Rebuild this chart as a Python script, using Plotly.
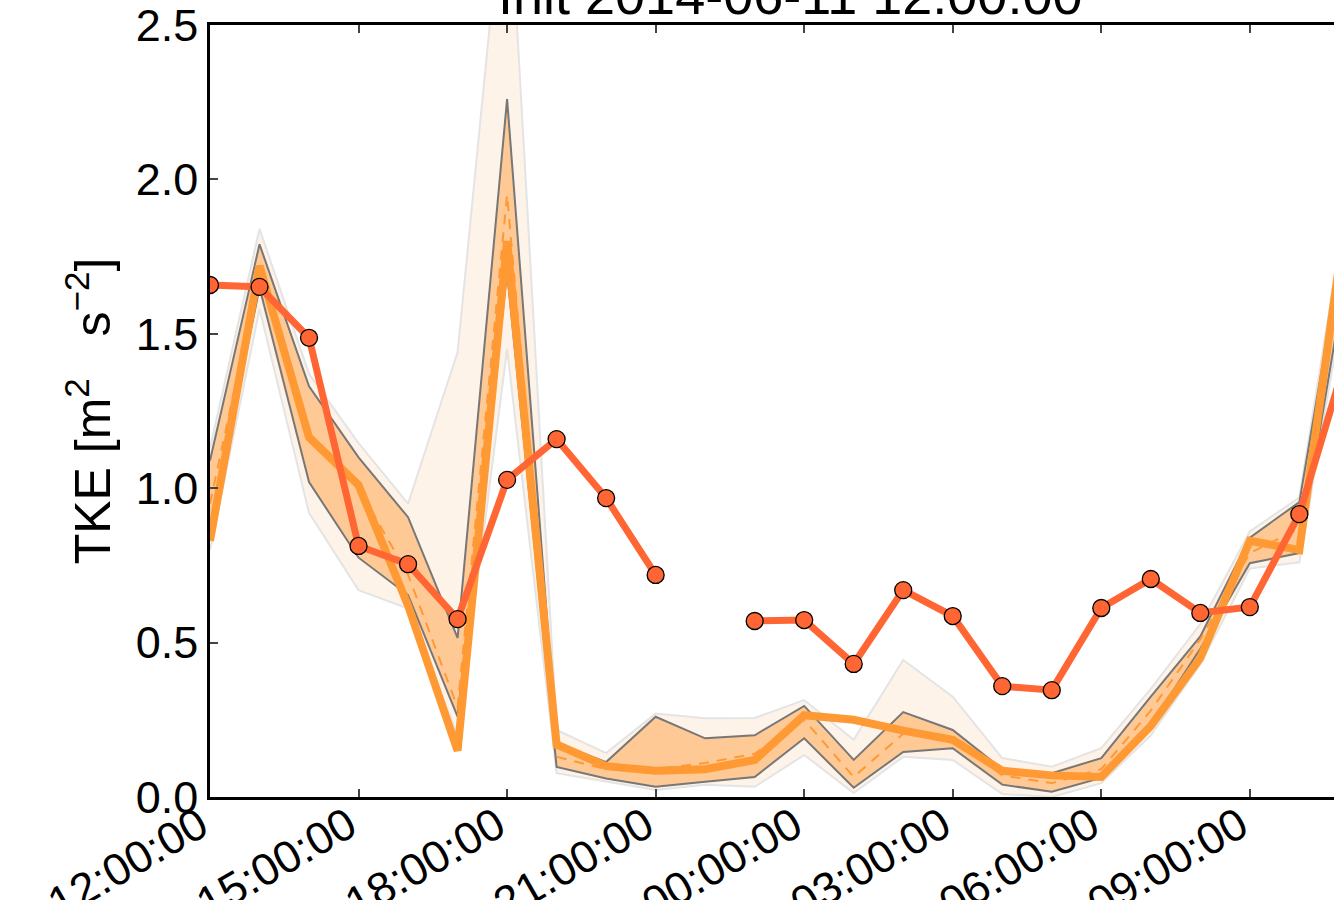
import pandas as pd
import plotly.graph_objects as go

# Hourly valid times of the forecast run
times = pd.date_range("2014-06-11 12:00", "2014-06-12 11:00", freq="h")

# Observed TKE (22:00 missing)
obs = [1.658, 1.652, 1.487, 0.813, 0.754, 0.576, 1.027, 1.159, 0.968, 0.719,
       None, 0.570, 0.573, 0.431, 0.670, 0.586, 0.359, 0.346, 0.612, 0.706,
       0.596, 0.615, 0.916, 1.45]

# Deterministic model run
model = [0.83, 1.72, 1.165, 1.01, 0.62, 0.15, 1.80, 0.17, 0.10, 0.085,
         0.09, 0.12, 0.265, 0.25, 0.215, 0.185, 0.085, 0.07, 0.065, 0.23,
         0.45, 0.83, 0.80, 1.95]

# Ensemble mean
ens_mean = [0.95, 1.70, 1.18, 1.00, 0.72, 0.29, 1.95, 0.13, 0.09, 0.09,
            0.11, 0.14, 0.25, 0.065, 0.205, 0.19, 0.07, 0.045, 0.09, 0.28,
            0.51, 0.79, 0.87, 1.85]

# Inner ensemble range
inner_hi = [1.09, 1.79, 1.33, 1.10, 0.906, 0.515, 2.26, 0.175, 0.113, 0.26,
            0.19, 0.20, 0.295, 0.12, 0.275, 0.217, 0.09, 0.077, 0.126, 0.325,
            0.52, 0.84, 0.955, 1.90]
inner_lo = [0.86, 1.65, 1.02, 0.775, 0.654, 0.26, 1.70, 0.097, 0.06, 0.033,
            0.049, 0.065, 0.19, 0.03, 0.146, 0.158, 0.04, 0.017, 0.062, 0.233,
            0.48, 0.757, 0.79, 1.75]

# Outer ensemble range
outer_hi = [1.13, 1.84, 1.37, 1.146, 0.95, 1.44, 3.07, 0.217, 0.142, 0.27,
            0.255, 0.256, 0.314, 0.185, 0.444, 0.325, 0.126, 0.098, 0.158, 0.35,
            0.56, 0.86, 0.97, 1.97]
outer_lo = [0.80, 1.58, 0.92, 0.67, 0.61, 0.20, 1.45, 0.077, 0.05, 0.023,
            0.04, 0.033, 0.136, 0.013, 0.13, 0.12, 0.01, 0.0, 0.045, 0.20,
            0.43, 0.74, 0.76, 1.70]

tick_times = pd.date_range("2014-06-11 12:00", "2014-06-12 09:00", freq="3h")
y_ticks = [0.0, 0.5, 1.0, 1.5, 2.0, 2.5]

FONT = "Liberation Sans, Arial, sans-serif"
OBS_C = "#ff6633"
MODEL_C = "#ff9933"
INNER_C = "#fec995"
OUTER_C = "#fef3e8"
EDGE_C = "#777777"

fig = go.Figure()

# outer band
fig.add_trace(go.Scatter(x=times, y=outer_lo, mode="lines",
                         line=dict(color="#e4e4e4", width=2), showlegend=False))
fig.add_trace(go.Scatter(x=times, y=outer_hi, mode="lines", fill="tonexty",
                         fillcolor=OUTER_C, line=dict(color="#e4e4e4", width=2),
                         showlegend=False))
# inner band
fig.add_trace(go.Scatter(x=times, y=inner_lo, mode="lines",
                         line=dict(color=EDGE_C, width=2), showlegend=False))
fig.add_trace(go.Scatter(x=times, y=inner_hi, mode="lines", fill="tonexty",
                         fillcolor=INNER_C, line=dict(color=EDGE_C, width=2),
                         showlegend=False))
# ensemble mean
fig.add_trace(go.Scatter(x=times, y=ens_mean, mode="lines",
                         line=dict(color=MODEL_C, width=2, dash="10px,8px"),
                         showlegend=False))
# deterministic run
fig.add_trace(go.Scatter(x=times, y=model, mode="lines",
                         line=dict(color=MODEL_C, width=8), showlegend=False))
# observations
fig.add_trace(go.Scatter(x=times, y=obs, mode="lines+markers",
                         line=dict(color=OBS_C, width=7),
                         marker=dict(color=OBS_C, size=17,
                                     line=dict(color="black", width=1.3)),
                         connectgaps=False, showlegend=False))

fig.update_layout(
    width=1334, height=900,
    margin=dict(l=210, r=0, t=25, b=103, autoexpand=False),
    paper_bgcolor="white", plot_bgcolor="white",
    font=dict(family=FONT, size=45, color="black"),
    showlegend=False,
    annotations=[dict(text="Init 2014-06-11 12:00:00", xref="paper", yref="paper",
                      x=0.516, y=1.0, xanchor="center", yanchor="bottom",
                      yshift=-2, showarrow=False, font=dict(size=54, family=FONT))],
)

fig.update_xaxes(
    range=[pd.Timestamp("2014-06-11 12:00"), pd.Timestamp("2014-06-12 10:42")],
    tickvals=tick_times, ticktext=[t.strftime("%H:%M:%S") for t in tick_times],
    tickangle=-30, ticks="inside", ticklen=8, tickwidth=1.5, tickcolor="#444",
    showline=True, linecolor="black", linewidth=2.5, mirror="ticks",
    showgrid=False, zeroline=False, automargin=False,
    ticklabeloverflow="allow", ticklabelstandoff=-18, ticklabelshift=-10,
)
fig.update_yaxes(
    range=[0, 2.5], tickvals=y_ticks,
    ticktext=[f"{v:.1f}" for v in y_ticks],
    ticks="inside", ticklen=8, tickwidth=1.5, tickcolor="#444",
    showline=True, linecolor="black", linewidth=2.5, mirror=False,
    showgrid=False, zeroline=False, automargin=False,
    ticklabeloverflow="allow",
    title=dict(text="TKE [m<sup>2</sup>\u00a0\u00a0 s<sup>−2</sup>]", standoff=10,
               font=dict(size=50)),
)

fig.write_html("out.html")
